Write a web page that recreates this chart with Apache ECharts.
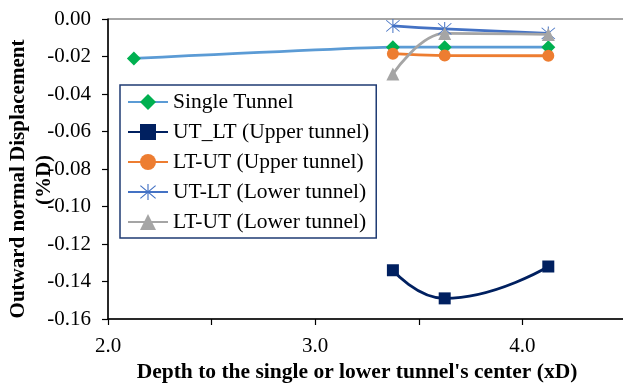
<!DOCTYPE html>
<html>
<head>
<meta charset="utf-8">
<script src="https://cdn.jsdelivr.net/npm/echarts@6/dist/echarts.min.js"></script>
<style>
  html, body { margin: 0; padding: 0; background: #fff; }
  #chart { width: 623px; height: 386px; }
</style>
</head>
<body>
<div id="chart"></div>
<script>
// Depth to the single / lower tunnel's center, in tunnel diameters
const depthSingle = [2.125, 3.375, 3.625, 4.125];
const depthTwin = [3.375, 3.625, 4.125];

// Outward normal displacement (%D)
const singleTunnel = [-0.021, -0.015, -0.015, -0.015];
const utLtUpper = [-0.134, -0.149, -0.132];
const ltUtUpper = [-0.0185, -0.0195, -0.0196];
const utLtLower = [-0.0037, -0.0053, -0.0077];
const ltUtLower = [-0.0293, -0.0077, -0.0082];

const seriesNames = [
  'Single Tunnel',
  'UT_LT (Upper tunnel)',
  'LT-UT (Upper tunnel)',
  'UT-LT (Lower tunnel)',
  'LT-UT (Lower tunnel)'
];

const xTickLabels = { 2: '2.0', 3: '3.0', 4: '4.0' };

const FONT = '"Liberation Serif", "Times New Roman", serif';

function pairs(xs, ys) {
  return xs.map((x, i) => [x, ys[i]]);
}

// asterisk marker: vertical bar and two diagonals
const asterisk = 'path://M9.4 0 L10.6 0 L10.6 20 L9.4 20 Z ' +
  'M1.6 2.4 L2.4 1.6 L18.4 17.6 L17.6 18.4 Z ' +
  'M17.6 1.6 L18.4 2.4 L2.4 18.4 L1.6 17.6 Z';

function lineSeries(name, data, lineColor, markColor, symbol, size, smooth) {
  return {
    name: name,
    type: 'line',
    data: data,
    smooth: smooth,
    symbol: symbol,
    symbolSize: size,
    showAllSymbol: true,
    lineStyle: { color: lineColor, width: 2.8 },
    itemStyle: { color: markColor, borderWidth: 0 },
    emphasis: { disabled: true }
  };
}

const chart = echarts.init(document.getElementById('chart'), null, { renderer: 'canvas' });

chart.setOption({
  animation: false,
  backgroundColor: '#ffffff',
  grid: {
    left: 108, top: 19, right: -3, bottom: 67,
    outerBoundsMode: 'none',
    containLabel: false,
    show: true, borderColor: '#4d4d4d', borderWidth: 1, backgroundColor: 'transparent'
  },
  xAxis: {
    type: 'value',
    min: 2, max: 4.5, interval: 0.5,
    axisLine: { show: true, onZero: false, lineStyle: { color: '#000', width: 1.5 } },
    axisTick: { show: true, inside: false, length: 6, lineStyle: { color: '#000', width: 1.2 } },
    splitLine: { show: false },
    axisLabel: {
      margin: 17,
      fontFamily: FONT, fontSize: 21, color: '#000',
      formatter: v => xTickLabels[v] || ''
    },
    name: "Depth to the single or lower tunnel's center (xD)",
    nameLocation: 'middle',
    nameGap: 42,
    nameTextStyle: { fontFamily: FONT, fontSize: 21.5, fontWeight: 'bold', color: '#000', padding: [0, 0, 0, -20] }
  },
  yAxis: {
    type: 'value',
    min: -0.16, max: 0, interval: 0.02,
    axisLine: { show: true, onZero: false, lineStyle: { color: '#000', width: 1.5 } },
    axisTick: { show: true, inside: false, length: 6, lineStyle: { color: '#000', width: 1.2 } },
    splitLine: { show: false },
    axisLabel: {
      margin: 17,
      fontFamily: FONT, fontSize: 21, color: '#000',
      formatter: v => v.toFixed(2)
    }
  },
  legend: {
    orient: 'vertical',
    left: 120, top: 85,
    padding: [6, 7, 5, 7],
    itemGap: 8,
    itemWidth: 40, itemHeight: 20,
    borderColor: '#1f3b73', borderWidth: 1.5,
    backgroundColor: '#fff',
    data: seriesNames,
    textStyle: { fontFamily: FONT, fontSize: 21.5, color: '#000', lineHeight: 22 }
  },
  graphic: [
    {
      type: 'text', x: 19, y: 179, rotation: Math.PI / 2,
      style: {
        text: 'Outward normal Displacement', fontFamily: FONT, fontSize: 21, fontWeight: 'bold',
        fill: '#000', align: 'center', verticalAlign: 'middle'
      }
    },
    {
      type: 'text', x: 45, y: 180, rotation: Math.PI / 2,
      style: {
        text: '(%D)', fontFamily: FONT, fontSize: 21, fontWeight: 'bold',
        fill: '#000', align: 'center', verticalAlign: 'middle'
      }
    }
  ],
  series: [
    lineSeries(seriesNames[0], pairs(depthSingle, singleTunnel), '#5b9bd5', '#00b050', 'diamond', 14, 0.1),
    lineSeries(seriesNames[1], pairs(depthTwin, utLtUpper), '#002060', '#002060', 'rect', 12, 0.5),
    lineSeries(seriesNames[2], pairs(depthTwin, ltUtUpper), '#ed7d31', '#ed7d31', 'circle', 12, 0.5),
    lineSeries(seriesNames[3], pairs(depthTwin, utLtLower), '#4472c4', '#4472c4', asterisk, 14, 0.5),
    lineSeries(seriesNames[4], pairs(depthTwin, ltUtLower), '#a5a5a5', '#a5a5a5', 'triangle', 13, 0.4)
  ]
});
</script>
</body>
</html>
